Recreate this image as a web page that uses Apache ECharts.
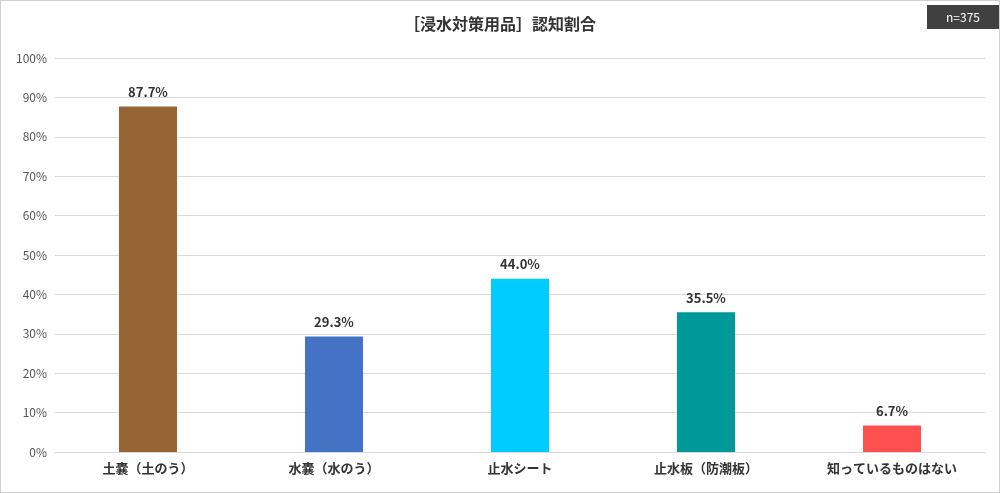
<!DOCTYPE html>
<html><head><meta charset="utf-8">
<script src="https://cdn.jsdelivr.net/npm/echarts@6/dist/echarts.min.js"></script>
<style>html,body{margin:0;padding:0;background:#fff}#c{width:1000px;height:493px;box-sizing:border-box;border:1px solid #d0d0d0}</style>
</head><body><div id="c"></div>
<script>
const categories = ['土嚢（土のう）','水嚢（水のう）','止水シート','止水板（防潮板）','知っているものはない'];
const values = [87.7, 29.3, 44.0, 35.5, 6.7];
const colors = ['#976433','#4472C4','#00CCFF','#009999','#FF5050'];
const chart = echarts.init(document.getElementById('c'));
const ff = '"Noto Sans CJK JP", sans-serif';
chart.setOption({
  animation:false,
  title:{text:'［浸水対策用品］認知割合',left:'center',top:10,textStyle:{fontFamily:ff,fontSize:16,fontWeight:'bold',color:'#333'}},
  graphic:[{type:'group',right:0,top:4,children:[
    {type:'rect',shape:{x:0,y:0,width:72,height:24},style:{fill:'#404040'}},
    {type:'text',style:{x:36,y:12,text:'n=375',fill:'#fff',font:'12px '+ff,align:'center',verticalAlign:'middle'}}
  ]}],
  grid:{left:54,right:14,top:57,bottom:40},
  xAxis:{type:'category',data:categories,axisTick:{show:false},axisLine:{lineStyle:{color:'#d9d9d9'}},
    axisLabel:{fontFamily:ff,fontSize:13,fontWeight:'bold',color:'#333',margin:10}},
  yAxis:{type:'value',min:0,max:100,interval:10,axisLabel:{formatter:'{value}%',fontFamily:ff,fontSize:12,color:'#555'},
    splitLine:{lineStyle:{color:'#d9d9d9'}}},
  series:[{type:'bar',barWidth:58,data:values.map((v,i)=>({value:v,itemStyle:{color:colors[i]}})),
    label:{show:true,position:'top',distance:8,formatter:p=>p.value.toFixed(1)+'%',fontFamily:ff,fontSize:13,fontWeight:'bold',color:'#333'}}]
});
</script></body></html>
